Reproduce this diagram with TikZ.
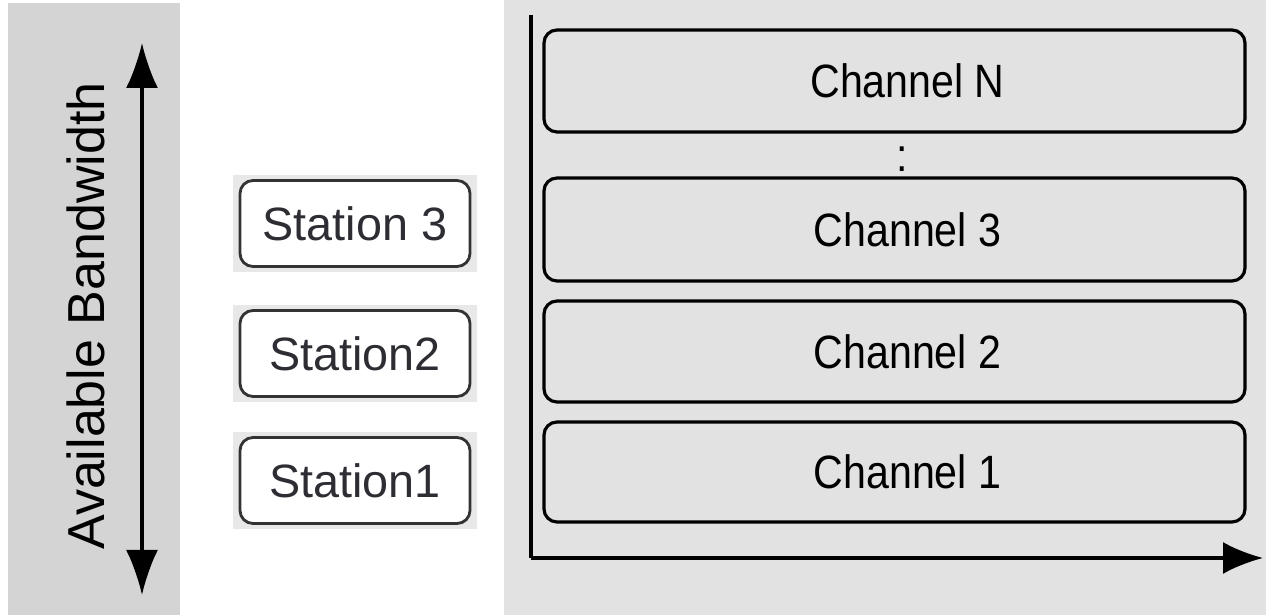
\documentclass[tikz,border=0pt]{standalone}
\usepackage{fontspec}
\setmainfont{Liberation Sans}
\newfontfamily\chfont[FakeStretch=0.88]{Liberation Sans}
\usetikzlibrary{arrows.meta}

\definecolor{leftgray}{RGB}{212,212,212}
\definecolor{rightgray}{RGB}{226,226,226}
\definecolor{halogray}{RGB}{232,232,232}
\definecolor{sttext}{RGB}{45,45,52}

\begin{document}
\begin{tikzpicture}
        [>={Latex[length=4.5mm,width=3.2mm]},
        chbox/.style={draw,line width=0.9pt,rounded corners=1.3mm,minimum width=7.01cm,
            fill=rightgray,font=\chfont\fontsize{13.3pt}{15pt}\selectfont,
            execute at begin node=\hspace*{0.26cm}},
        stbox/.style={draw=black!80,line width=0.8pt,rounded corners=1.3mm,minimum width=2.30cm,
            minimum height=0.86cm,fill=white,text=sttext,font=\fontsize{13.3pt}{15pt}\selectfont},
        halo/.style={fill=halogray,minimum width=2.44cm,minimum height=0.97cm,inner sep=0pt}]

        \useasboundingbox (0,0) rectangle (12.66,6.15);

        % backgrounds
        \fill[leftgray] (0.08,0) rectangle (1.80,6.12);
        \fill[rightgray] (5.04,0) rectangle (12.66,6.15);

        % bandwidth
        \node[rotate=90,inner sep=0pt,font=\fontsize{14.8pt}{17pt}\selectfont] (bw) at (0.86,2.99) {Available Bandwidth};
        \coordinate (bwlow) at (1.42,0.20);
        \coordinate (bwhigh) at (1.42,5.72);
        \draw[<->,line width=0.9pt] (bwlow) -- (bwhigh);

        % stations
        \node[halo] (h3) at (3.55,3.915) {};
        \node[halo] (h2) at (3.55,2.615) {};
        \node[halo] (h1) at (3.55,1.345) {};
        \node[stbox] (st3) at (h3) {Station 3};
        \node[stbox] (st2) at (h2) {Station2};
        \node[stbox] (st1) at (h1) {Station1};

        % axes
        \coordinate (origin) at (5.31,0.57);
        \coordinate (ytop) at (5.31,6.00);
        \coordinate (xend) at (12.63,0.57);
        \draw[line width=0.9pt] (ytop) -- (origin);
        \draw[->,line width=0.9pt,>={Latex[length=4mm,width=3.2mm]}] (origin) -- (xend);

        % channels
        \node[chbox,minimum height=1.02cm] (chN) at (8.945,5.34) {Channel N};
        \node[chbox,minimum height=1.03cm] (ch3) at (8.945,3.855) {Channel 3};
        \node[chbox,minimum height=1.01cm] (ch2) at (8.945,2.635) {Channel 2};
        \node[chbox,minimum height=1.00cm] (ch1) at (8.945,1.43) {Channel 1};
        \node[font=\chfont\fontsize{13.3pt}{15pt}\selectfont,inner sep=0pt] (dots) at (9.02,4.56) {:};

    \end{tikzpicture}
\end{document}
